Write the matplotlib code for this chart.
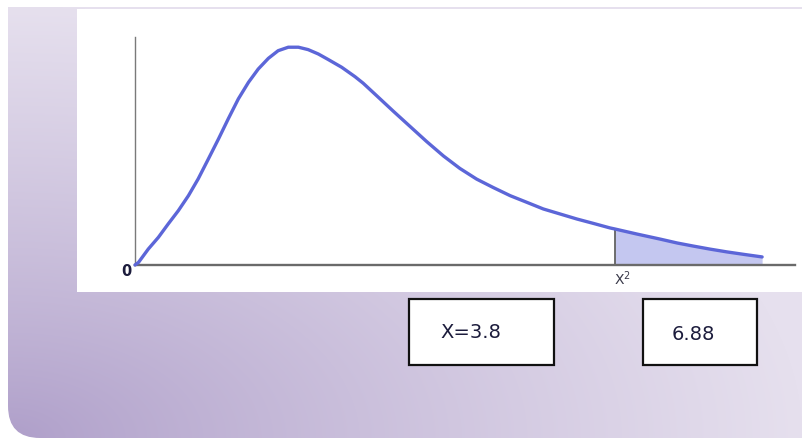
import numpy as np
import matplotlib
matplotlib.use("Agg")
import matplotlib.pyplot as plt
from matplotlib.path import Path
from matplotlib.patches import PathPatch, Rectangle

# ---- data (chi-square shaped curve, arbitrary units) ----
chi_x = [0.0, 0.09, 0.34, 0.60, 0.85, 1.11, 1.37, 1.62, 1.88, 2.14, 2.39, 2.65,
         2.91, 3.16, 3.42, 3.67, 3.93, 4.19, 4.44, 4.70, 4.96, 5.30, 5.64, 5.85,
         6.20, 6.62, 7.05, 7.48, 7.91, 8.33, 8.76, 9.19, 9.62, 10.04, 10.47,
         10.90, 11.33, 11.75, 12.18, 12.31, 12.87, 13.46, 13.90, 14.31, 14.74,
         15.18, 15.64, 16.08]
density = [0.0, 1.2, 7.3, 12.7, 18.8, 24.9, 31.8, 39.5, 48.6, 57.8, 67.0, 76.2,
           83.8, 89.9, 94.8, 98.3, 99.9, 99.9, 98.8, 96.8, 94.2, 90.7, 86.4, 83.4,
           77.6, 70.6, 63.6, 56.6, 50.0, 44.3, 39.4, 35.5, 31.8, 28.8, 25.7,
           23.4, 21.1, 19.1, 17.0, 16.5, 14.2, 11.9, 10.1, 8.7, 7.3,
           6.0, 4.8, 3.7]
critical_x = 12.31
origin_label = "0"
critical_label = r"$\mathrm{X}^{2}$"
box_labels = ["X=3.8", "6.88"]

W, H = 802, 439
fig = plt.figure(figsize=(8.02, 4.39), dpi=100)
fig.patch.set_facecolor("white")

# ---- background layer in pixel coordinates ----
bg = fig.add_axes([0, 0, 1, 1])
bg.set_xlim(0, W)
bg.set_ylim(H, 0)
bg.axis("off")

yy, xx = np.mgrid[0:H, 0:W]
d = np.sqrt(((xx - 8) / 794.0) ** 2 + ((H - yy) / 431.0) ** 2)
t = np.clip(d, 0, 1) ** 0.85
dark = np.array([174, 158, 201]) / 255.0
light = np.array([230, 224, 238]) / 255.0
img = dark * (1 - t[..., None]) + light * t[..., None]
im = bg.imshow(img, extent=(0, W, H, 0), origin="upper", zorder=0,
               interpolation="bilinear")
r = 32
verts = [(8, 8), (W, 8), (W, H), (8 + r, H), (8, H), (8, H - r), (8, 8)]
codes = [Path.MOVETO, Path.LINETO, Path.LINETO, Path.LINETO,
         Path.CURVE3, Path.CURVE3, Path.CLOSEPOLY]
clip = PathPatch(Path(verts, codes), transform=bg.transData,
                 facecolor="none", edgecolor="none")
bg.add_patch(clip)
im.set_clip_path(clip)

# white chart panel
bg.add_patch(Rectangle((77, 10), W - 77, 283, facecolor="white",
                       edgecolor="none", zorder=1))

# boxes with values
box_specs = [((409, 300), 145, 66, (471, 333)), ((643, 300), 114, 66, (693, 335))]
for (xy, bw, bh, tc), label in zip(box_specs, box_labels):
    bg.add_patch(Rectangle(xy, bw, bh, facecolor="white", edgecolor="#111111",
                           linewidth=1.6, zorder=2))
    bg.text(tc[0], tc[1], label, ha="center", va="center", fontsize=14,
            color="#1c1c3c", family="DejaVu Sans", zorder=3)

# ---- main chart axes ----
ax = fig.add_axes([135 / W, (H - 266) / H, 660 / W, 228 / H])
ax.set_xlim(0, 660 / 39.0)
ax.set_ylim(0, 228 / 2.18)
ax.patch.set_alpha(0)
for s in ("top", "right"):
    ax.spines[s].set_visible(False)
ax.spines["left"].set_color("#7a7a7a")
ax.spines["left"].set_linewidth(1.0)
ax.spines["bottom"].set_color("#6a6a6a")
ax.spines["bottom"].set_linewidth(1.7)
ax.set_xticks([])
ax.set_yticks([])

xs = np.array(chi_x)
ys = np.array(density)
tail = xs >= critical_x
ax.fill_between(xs[tail], 0, ys[tail], color="#c4c7f0", linewidth=0, zorder=1)
y_crit = np.interp(critical_x, xs, ys)
ax.vlines(critical_x, 0, y_crit, color="#555555", linewidth=1.2, zorder=2)
ax.plot(xs, ys, color="#5c66d8", linewidth=2.4, solid_capstyle="round",
        solid_joinstyle="round", zorder=3, clip_on=False)

ax.annotate(origin_label, xy=(0, 0), xytext=(-9, -6), textcoords="offset pixels",
            ha="center", va="center", fontsize=10.5, fontweight="bold",
            color="#1c1c3c", annotation_clip=False)
ax.annotate(critical_label, xy=(critical_x, 0), xytext=(7, -13),
            textcoords="offset pixels", ha="center", va="center", fontsize=10,
            color="#3a3a4a", annotation_clip=False)

fig.savefig("out.png", dpi=100)
